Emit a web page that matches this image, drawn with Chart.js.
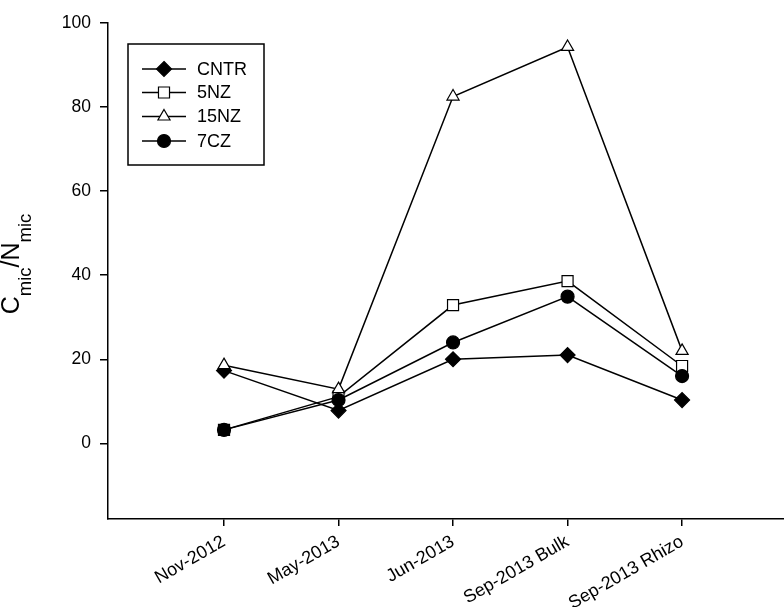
<!DOCTYPE html>
<html>
<head>
<meta charset="utf-8">
<script src="https://cdn.jsdelivr.net/npm/chart.js@4/dist/chart.umd.min.js"></script>
<style>
html,body{margin:0;padding:0;background:#fff;}
#wrap{width:784px;height:607px;}
</style>
</head>
<body>
<div id="wrap"><canvas id="c" width="784" height="607"></canvas></div>
<script>
// ---- data ----
const categories = ['Nov-2012', 'May-2013', 'Jun-2013', 'Sep-2013 Bulk', 'Sep-2013 Rhizo'];
const seriesNames = ['CNTR', '5NZ', '15NZ', '7CZ'];
const cntr = [17.3, 7.8, 20.0, 21.0, 10.3];
const nz5 = [3.2, 11.1, 32.9, 38.6, 18.4];
const nz15 = [18.6, 12.9, 82.5, 94.3, 22.0];
const cz7 = [3.2, 10.3, 24.0, 34.9, 16.0];
const yTickValues = [0, 20, 40, 60, 80, 100];

const FONT = "'Liberation Sans', Arial, Helvetica, sans-serif";

const styles = [
  { style: 'rectRot', fill: '#000', radius: 7.5 },
  { style: 'rect', fill: '#fff', radius: 7.8 },
  { style: 'triangle', fill: '#fff', radius: 7 },
  { style: 'circle', fill: '#000', radius: 6.5 }
];
const values = [cntr, nz5, nz15, cz7];

const datasets = seriesNames.map((name, i) => ({
  label: name,
  data: values[i].map((v, j) => ({ x: j, y: v })),
  borderColor: '#000',
  borderWidth: 1.5,
  backgroundColor: styles[i].fill,
  pointStyle: styles[i].style,
  pointRadius: styles[i].radius,
  pointHoverRadius: styles[i].radius,
  pointBackgroundColor: styles[i].fill,
  pointBorderColor: '#000',
  pointBorderWidth: 1.2,
  tension: 0,
  fill: false,
  order: seriesNames.length - i
}));

function drawMarker(ctx, style, x, y, r) {
  ctx.beginPath();
  if (style === 'rectRot') {
    ctx.moveTo(x, y - r); ctx.lineTo(x + r, y); ctx.lineTo(x, y + r); ctx.lineTo(x - r, y); ctx.closePath();
  } else if (style === 'rect') {
    const s = r * Math.SQRT1_2;
    ctx.rect(x - s, y - s, 2 * s, 2 * s);
  } else if (style === 'triangle') {
    for (let k = 0; k < 3; k++) {
      const a = k * 2 * Math.PI / 3;
      const px = x + Math.sin(a) * r, py = y - Math.cos(a) * r;
      if (k === 0) ctx.moveTo(px, py); else ctx.lineTo(px, py);
    }
    ctx.closePath();
  } else {
    ctx.arc(x, y, r, 0, Math.PI * 2);
  }
  ctx.fill();
  ctx.stroke();
}

const legendPlugin = {
  id: 'boxLegend',
  afterDraw(chart) {
    const ctx = chart.ctx;
    ctx.save();
    ctx.strokeStyle = '#000';
    ctx.lineWidth = 1.5;
    ctx.strokeRect(128, 44, 136, 121);
    const rows = [69, 92.5, 116.5, 141];
    ctx.font = '18px ' + FONT;
    ctx.textBaseline = 'middle';
    ctx.textAlign = 'left';
    chart.data.datasets.forEach((ds, i) => {
      const y = rows[i];
      ctx.strokeStyle = '#000';
      ctx.lineWidth = 1.5;
      ctx.beginPath(); ctx.moveTo(142, y); ctx.lineTo(186, y); ctx.stroke();
      ctx.fillStyle = ds.pointBackgroundColor;
      ctx.lineWidth = 1.2;
      drawMarker(ctx, ds.pointStyle, 164, y, ds.pointRadius);
      ctx.fillStyle = '#000';
      ctx.fillText(ds.label, 197, y + 1);
    });
    ctx.restore();
  }
};

const yTitlePlugin = {
  id: 'yTitle',
  afterDraw(chart) {
    const ctx = chart.ctx;
    ctx.save();
    ctx.translate(19, 264);
    ctx.rotate(-Math.PI / 2);
    ctx.fillStyle = '#000';
    ctx.textBaseline = 'alphabetic';
    ctx.textAlign = 'left';
    const big = '25px ' + FONT, small = '18.5px ' + FONT;
    const parts = [['C', big, 0], ['mic', small, 12], ['/N', big, 0], ['mic', small, 12]];
    let total = 0;
    parts.forEach(p => { ctx.font = p[1]; total += ctx.measureText(p[0]).width; });
    let x = -total / 2;
    parts.forEach(p => { ctx.font = p[1]; ctx.fillText(p[0], x, p[2]); x += ctx.measureText(p[0]).width; });
    ctx.restore();
  }
};

new Chart(document.getElementById('c'), {
  type: 'line',
  data: { datasets },
  options: {
    responsive: false,
    animation: false,
    devicePixelRatio: 1,
    layout: { autoPadding: false, padding: { top: 23, right: 0, left: 0, bottom: 0 } },
    plugins: { legend: { display: false }, tooltip: { enabled: false }, title: { display: false } },
    scales: {
      x: {
        type: 'linear',
        min: -1.013,
        max: 4.89,
        afterBuildTicks: (s) => { s.ticks = categories.map((c, i) => ({ value: i })); },
        afterFit: (s) => { s.height = 88; s.paddingRight = 0; s.paddingLeft = 0; },
        ticks: {
          callback: (v) => categories[v],
          autoSkip: false,
          maxRotation: 30,
          minRotation: 30,
          color: '#000',
          padding: 5,
          font: { size: 18, family: FONT }
        },
        grid: { drawOnChartArea: false, drawTicks: true, tickLength: 7, color: '#000', lineWidth: 1.5 },
        border: { display: true, color: '#000', width: 1.5 }
      },
      y: {
        type: 'linear',
        min: -18,
        max: 100,
        afterBuildTicks: (s) => { s.ticks = yTickValues.map(v => ({ value: v })); },
        afterFit: (s) => { s.width = 108; },
        ticks: { color: '#000', padding: 9, font: { size: 17.5, family: FONT } },
        grid: { drawOnChartArea: false, drawTicks: true, tickLength: 8, color: '#000', lineWidth: 1.5 },
        border: { display: true, color: '#000', width: 1.5 }
      }
    }
  },
  plugins: [legendPlugin, yTitlePlugin]
});
</script>
</body>
</html>
